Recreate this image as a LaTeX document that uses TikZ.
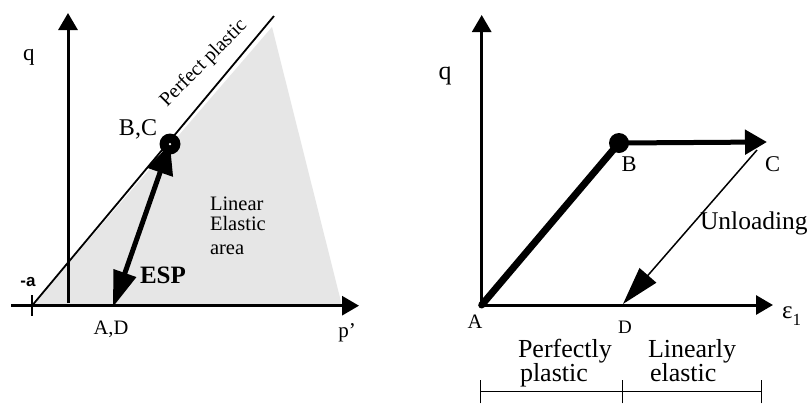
\documentclass[tikz,border=0pt]{standalone}
\usepackage{fontspec}
\setmainfont{Liberation Serif}
\newfontfamily\sansfnt{Liberation Sans}
\usetikzlibrary{arrows.meta}
\definecolor{areagray}{HTML}{E6E6E6}
\newcommand{\fs}[1]{\fontsize{#1pt}{#1pt}\selectfont}
\begin{document}
\begin{tikzpicture}[x=1pt,y=-1pt,
  axisline/.style={line width=3pt,-{Triangle[length=17pt,width=19pt]}},
  lbl/.style={inner sep=0pt,outer sep=0pt},
  thin/.style={line width=1pt}]
\useasboundingbox[fill=white] (0,0) rectangle (811,405);
% ---------- left diagram ----------
\coordinate (mA) at (32,305.7);
\coordinate (ftop) at (274,16);
\coordinate (gtop) at (272,27);
\coordinate (gright) at (342,305.7);
\coordinate (hs) at (11,305.7);
\coordinate (he) at (359,305.7);
\coordinate (vs) at (68,303);
\coordinate (ve) at (68,13);
\coordinate (tk1) at (32,295);
\coordinate (tk2) at (32,316);
\coordinate (AD) at (113,307);
\coordinate (BC) at (170,144);
\fill[areagray] (mA) -- (gtop) -- (gright) -- cycle;
\draw[axisline] (hs) -- (he);
\draw[axisline] (vs) -- (ve);
\draw[line width=2.5pt] (tk1) -- (tk2);
\draw[line width=1.8pt] (mA) -- (ftop);
\node[lbl,font=\fs{20},rotate=45,anchor=base west] (lpp) at (167,107) {Perfect plastic};
\draw[line width=5pt,{Triangle[length=36pt,width=23pt]}-{Triangle[length=30pt,width=26pt]}] (AD) -- (BC);
\node[circle,fill=black,minimum size=21pt,inner sep=0pt] (bcdot) at (BC) {};
\node[circle,fill=white,minimum size=2.5pt,inner sep=0pt] (bcdotc) at (BC) {};
\node[lbl,font=\fs{23}] (lq) at (29,57) {q};
\node[lbl,font=\sansfnt\bfseries\fs{17}] (lma) at (28,282) {-a};
\node[lbl,font=\fs{24}] (lbc) at (138,129) {B,C};
\node[lbl,font=\fs{20.5},anchor=base west] (lin1) at (210,210) {Linear};
\node[lbl,font=\fs{20.5},anchor=base west] (lin2) at (210,230) {Elastic};
\node[lbl,font=\fs{20.5},anchor=base west] (lin3) at (210,254.5) {area};
\node[lbl,font=\bfseries\fs{25},anchor=base west] (lesp) at (140,283.6) {ESP};
\node[lbl,font=\fs{20.5}] (lad) at (111,329) {A,D};
\node[lbl,font=\fs{21}] (lp) at (347,333) {p'};
% ---------- right diagram ----------
\coordinate (rA) at (481.7,305);
\coordinate (rve) at (481.7,15);
\coordinate (rhe) at (773,305);
\coordinate (rB) at (619,143);
\coordinate (rC) at (767,142);
\coordinate (rU) at (757,150);
\coordinate (rD) at (623,304);
\draw[axisline] (rA) -- (rve);
\draw[axisline] (rA) -- (rhe);
\draw[line width=7pt,line cap=round] (rA) -- (rB);
\draw[line width=5pt,-{Triangle[length=22pt,width=24pt]}] (rB) -- (rC);
\draw[line width=1.5pt,-{Triangle[length=38pt,width=22pt]}] (rU) -- (rD);
\node[circle,fill=black,minimum size=20pt,inner sep=0pt] (rbdot) at (rB) {};
\node[lbl,font=\fs{26}] (rq) at (445,76) {q};
\node[lbl,font=\fs{22.5}] (rlb) at (629,164) {B};
\node[lbl,font=\fs{22.5}] (rlc) at (772.5,164) {C};
\node[lbl,font=\fs{25.5},anchor=base west] (rlu) at (700,229) {Unloading};
\node[lbl,font=\fs{20.5}] (rla) at (475,322) {A};
\node[lbl,font=\fs{19}] (rld) at (625,327.5) {D};
\node[lbl,font=\fs{25},anchor=base west] (reps) at (782,318) {ε\raisebox{-7pt}{\fs{17}1}};
\node[lbl,font=\fs{26},anchor=base west] (rpp1) at (518,357) {Perfectly};
\node[lbl,font=\fs{26},anchor=base west] (rpp2) at (520,381) {plastic};
\node[lbl,font=\fs{26},anchor=base west] (rle1) at (648,357) {Linearly};
\node[lbl,font=\fs{26},anchor=base west] (rle2) at (650,381) {elastic};
\coordinate (d1) at (480,391.7);
\coordinate (d2) at (622,391.7);
\coordinate (d3) at (761.7,391.7);
\draw[thin] (d1) -- (d3);
\foreach \p in {d1,d2,d3} {\draw[thin] ([yshift=-11.7pt]\p) -- ([yshift=11.3pt]\p);}
\end{tikzpicture}
\end{document}
